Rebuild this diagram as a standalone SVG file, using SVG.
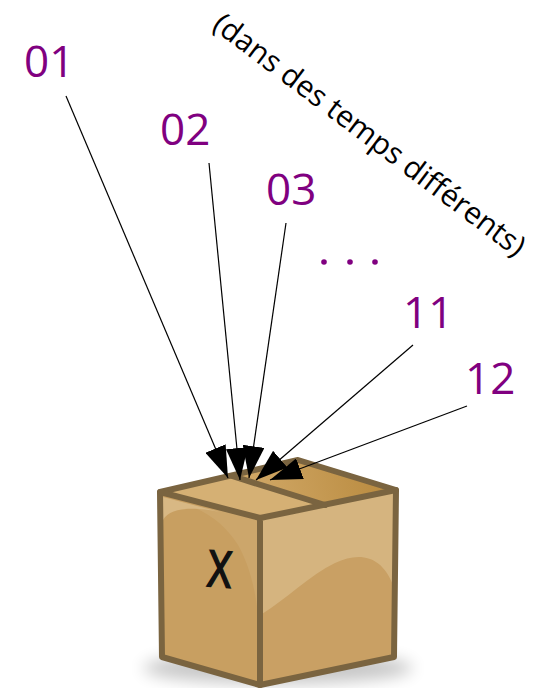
<svg xmlns="http://www.w3.org/2000/svg" width="545" height="688" viewBox="0 0 545 688">
  <style>
    .num { font-family: "Open Sans", "Noto Sans", sans-serif; font-size: 44px; fill: #800080; }
    .note { font-family: "Open Sans", "Noto Sans", sans-serif; font-size: 30px; fill: #000; }
    .edge { fill: none; stroke: #7a6440; stroke-width: 6; stroke-linejoin: round; stroke-linecap: round; }
    .arrow { stroke: #000; stroke-width: 1.2; fill: none; marker-end: url(#head); }
  </style>
  <defs>
    <marker id="head" viewBox="0 0 32 22" refX="32" refY="11" markerWidth="32" markerHeight="22" markerUnits="userSpaceOnUse" orient="auto">
      <path d="M0,0 L32,11 L0,22 z" fill="#000"/>
    </marker>
    <linearGradient id="lidBack" x1="260" y1="500" x2="390" y2="470" gradientUnits="userSpaceOnUse">
      <stop offset="0" stop-color="#cfa664"/>
      <stop offset="1" stop-color="#b98a3e"/>
    </linearGradient>
    <filter id="soft" x="-30%" y="-100%" width="160%" height="300%">
      <feGaussianBlur stdDeviation="8"/>
    </filter>
  </defs>

  <!-- floor shadow -->
  <ellipse cx="278" cy="668" rx="135" ry="16" fill="#000" opacity="0.22" filter="url(#soft)"/>

  <g id="box">
    <!-- left face -->
    <path d="M160,492 L260,518 L260,685 L162,657 Z" fill="#c89f61"/>
    <path d="M163,500 C200,505 222,520 238,545 C252,570 258,600 260,640 L260,518 Z" fill="#cca66b"/>
    <path d="M163,497 L220,512 C190,506 170,508 163,520 Z" fill="#d8b884"/>
    <!-- right face -->
    <path d="M260,518 L396,490 L394,657 L260,685 Z" fill="#d5b47f"/>
    <path d="M262,614 C285,600 310,575 335,563 C360,551 382,556 393,585 L394,657 L260,685 Z" fill="#c9a064"/>
    <!-- lid -->
    <path d="M160,492 L230,476 L325,505 L260,518 Z" fill="#d5b074"/>
    <path d="M230,476 L298,460 L396,490 L325,505 Z" fill="url(#lidBack)"/>
    <!-- outline -->
    <path class="edge" d="M160,492 L298,460 L396,490 L394,657 L260,685 L162,657 Z"/>
    <path class="edge" d="M160,492 L260,518 L396,490 M260,518 L260,685"/>
    <path class="edge" d="M232,476 L325,505"/>
    <!-- hand-marked X -->
    <g transform="translate(206 586) rotate(4) scale(0.72 1)">
      <text x="0" y="0" font-family="Liberation Sans, sans-serif" font-size="52" fill="#111" stroke="#111" stroke-width="1.8">X</text>
    </g>
  </g>

  <g id="labels">
    <text class="num" x="24" y="77">01</text>
    <text class="num" x="160" y="145">02</text>
    <text class="num" x="266" y="205">03</text>
    <text class="num" x="403" y="328">11</text>
    <text class="num" x="465" y="394">12</text>
    <g id="ellipsis" fill="#800080">
      <circle cx="324" cy="262" r="2.8"/>
      <circle cx="350" cy="262" r="2.8"/>
      <circle cx="375" cy="262" r="2.8"/>
    </g>
    <text class="note" x="211" y="28" transform="rotate(37 211 28)">(dans des temps différents)</text>
  </g>

  <g id="connectors">
    <line class="arrow" x1="66" y1="96" x2="228" y2="478"/>
    <line class="arrow" x1="209" y1="163" x2="240" y2="480"/>
    <line class="arrow" x1="286" y1="223" x2="249" y2="478"/>
    <line class="arrow" x1="413" y1="345" x2="256" y2="480"/>
    <line class="arrow" x1="467" y1="406" x2="270" y2="480"/>
  </g>
</svg>
